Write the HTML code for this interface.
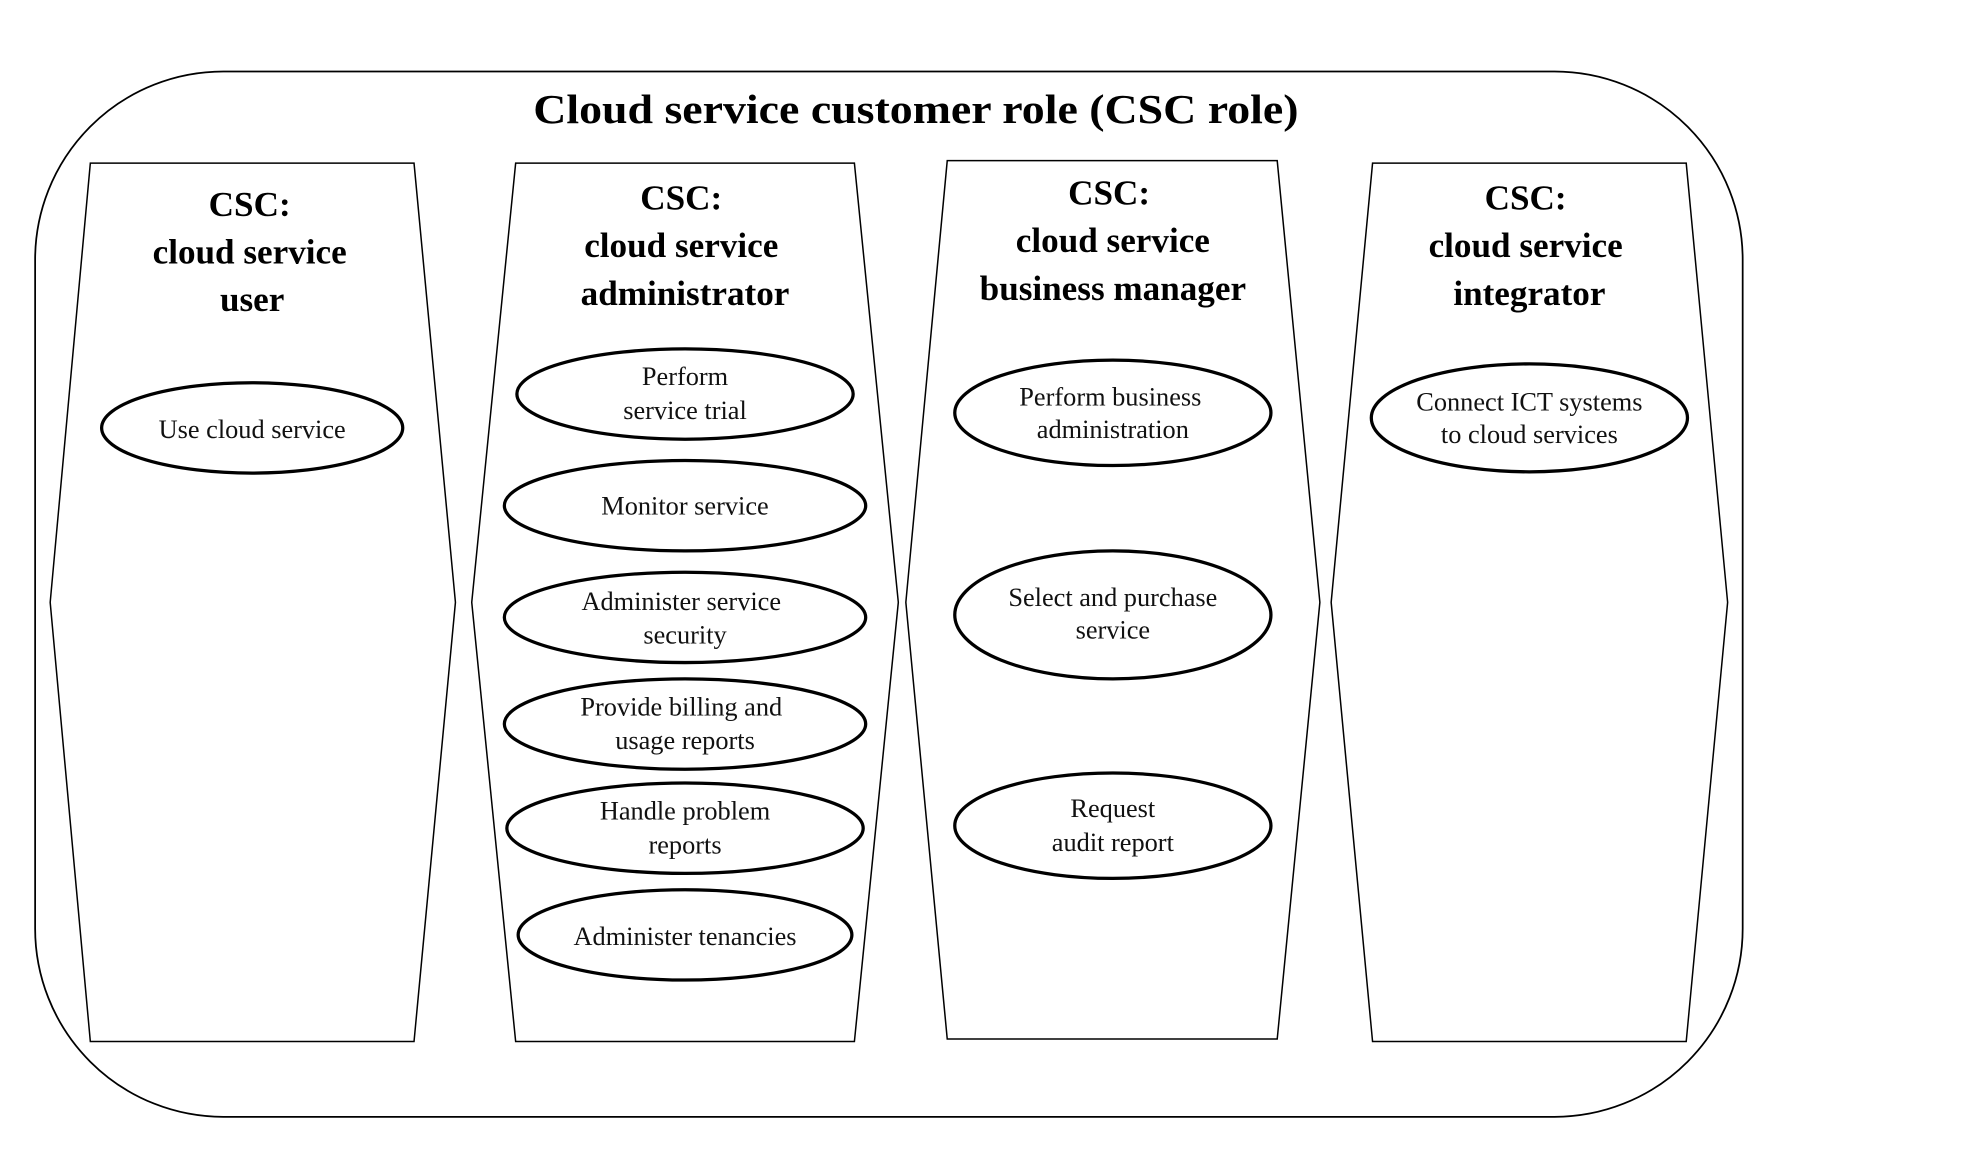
<!DOCTYPE html>
<html><head><meta charset="utf-8"><style>html,body{margin:0;padding:0;background:#fff}svg{display:block}</style></head>
<body>
<svg width="1966" height="1162" viewBox="0 0 1567 926" preserveAspectRatio="none" xmlns="http://www.w3.org/2000/svg" font-family="Liberation Serif, serif">
<rect width="1567" height="926" fill="#fff"/>
<rect x="28" y="57" width="1361" height="833" rx="150" ry="150" fill="none" stroke="#000" stroke-width="1.4"/>
<text x="730" y="98" text-anchor="middle" font-size="33" font-weight="bold" textLength="610" lengthAdjust="spacingAndGlyphs">Cloud service customer role (CSC role)</text>
<g fill="none" stroke="#000" stroke-width="1.2">
<polygon points="72,130 330,130 363,480 330,830 72,830 40,480"/>
<polygon points="411,130 681,130 716,480 681,830 411,830 376,480"/>
<polygon points="755,128 1018,128 1052,480 1018,828 755,828 722,480"/>
<polygon points="1094,130 1344,130 1377,480 1344,830 1094,830 1061,480"/>
</g>
<g font-size="28" font-weight="bold" text-anchor="middle">
<text x="199" y="172">CSC:</text><text x="199" y="210">cloud service</text><text x="201" y="248">user</text>
<text x="543" y="167">CSC:</text><text x="543" y="205">cloud service</text><text x="546" y="243">administrator</text>
<text x="884" y="163">CSC:</text><text x="887" y="201">cloud service</text><text x="887" y="239">business manager</text>
<text x="1216" y="167">CSC:</text><text x="1216" y="205">cloud service</text><text x="1219" y="243">integrator</text>
</g>
<g fill="none" stroke="#000" stroke-width="2.6">
<ellipse cx="201" cy="341" rx="120" ry="36"/>
<ellipse cx="546" cy="314" rx="134" ry="36"/>
<ellipse cx="546" cy="403" rx="144" ry="36"/>
<ellipse cx="546" cy="492" rx="144" ry="36"/>
<ellipse cx="546" cy="577" rx="144" ry="36"/>
<ellipse cx="546" cy="660" rx="142" ry="36"/>
<ellipse cx="546" cy="745" rx="133" ry="36"/>
<ellipse cx="887" cy="329" rx="126" ry="42"/>
<ellipse cx="887" cy="490" rx="126" ry="51"/>
<ellipse cx="887" cy="658" rx="126" ry="42"/>
<ellipse cx="1219" cy="333" rx="126" ry="43"/>
</g>
<g font-size="21" text-anchor="middle" fill="#111">
<text x="201" y="349">Use cloud service</text>
<text x="546" y="307">Perform</text><text x="546" y="334">service trial</text>
<text x="546" y="410">Monitor service</text>
<text x="543" y="486">Administer service</text><text x="546" y="513">security</text>
<text x="543" y="570">Provide billing and</text><text x="546" y="597">usage reports</text>
<text x="546" y="653">Handle problem</text><text x="546" y="680">reports</text>
<text x="546" y="753">Administer tenancies</text>
<text x="885" y="323">Perform business</text><text x="887" y="349">administration</text>
<text x="887" y="483">Select and purchase</text><text x="887" y="509">service</text>
<text x="887" y="651">Request</text><text x="887" y="678">audit report</text>
<text x="1219" y="327">Connect ICT systems</text><text x="1219" y="353">to cloud services</text>
</g>
</svg>
</body></html>
